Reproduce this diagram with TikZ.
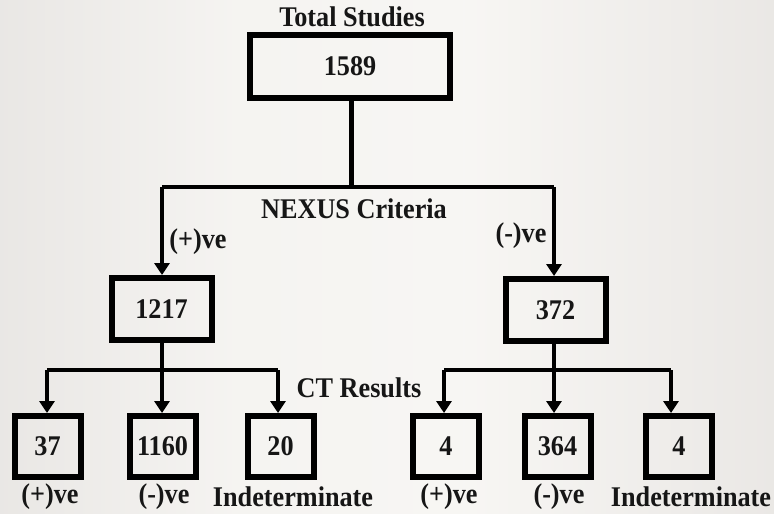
\documentclass[tikz,border=0pt]{standalone}
\usepackage{fontspec}
\setmainfont[FakeStretch=0.92]{Liberation Serif}
\usetikzlibrary{arrows.meta}
\definecolor{ink}{RGB}{22,22,22}
\pgfdeclarehorizontalshading{bgshade}{100bp}{%
  rgb(0bp)=(0.80,0.78,0.77);
  rgb(20bp)=(0.90,0.89,0.88);
  rgb(40bp)=(0.96,0.955,0.945);
  rgb(55bp)=(0.97,0.965,0.955);
  rgb(78bp)=(0.91,0.90,0.89);
  rgb(100bp)=(0.76,0.74,0.73)}
\tikzset{
  every node/.style={font=\fontsize{28.5}{32}\selectfont\bfseries, text=ink},
  numbox/.style={draw=black, line width=6pt, inner sep=0pt, minimum width=#1},
  numbox/.default=66pt,
  conn/.style={draw=black, line width=4.5pt},
  arr/.style={conn, -{Triangle[width=15pt,length=12pt]}},
  lbl/.style={inner sep=0pt},
}
\begin{document}
\begin{tikzpicture}[x=1pt,y=-1pt]
\shade[shading=bgshade] (0,0) rectangle (774,514);
\useasboundingbox (0,0) rectangle (774,514);

% top
\node[lbl] (title) at (352,17) {Total Studies};
\node[numbox=200pt, minimum height=63pt] (top) at (350,66.5) {1589};
\node[lbl] (nexus) at (354,209) {NEXUS Criteria};
\coordinate (hL) at (162,187);
\coordinate (hR) at (554,187);
\coordinate (hM) at (351.5,187);

% second level
\node[numbox=100pt, minimum height=62pt] (a) at (161.5,309) {1217};
\node[numbox=100pt, minimum height=62pt] (b) at (555.5,310) {372};
\node[lbl] (apos) at (198,242) {(+)ve};
\node[lbl] (bneg) at (521,236) {(-)ve};

\draw[conn] (top.south -| hM) -- (hM);
\draw[conn] (hL) -- (hR);
\draw[arr] (hL) -- (hL |- a.north);
\draw[arr] (hR) -- (hR |- b.north);

% third level
\node[numbox, minimum height=61pt] (c1) at (47.5,446.5) {37};
\node[numbox, minimum height=61pt] (c2) at (162.5,446.5) {1160};
\node[numbox, minimum height=61pt] (c3) at (280.5,446.5) {20};
\node[numbox, minimum height=61pt] (d1) at (446,446.5) {4};
\node[numbox, minimum height=61pt] (d2) at (557.5,446.5) {364};
\node[numbox, minimum height=61pt] (d3) at (679,446.5) {4};

\node[lbl] (ct) at (359,388) {CT Results};

\coordinate (la) at (47,370);
\coordinate (lm) at (162,370);
\coordinate (lb) at (278,370);
\coordinate (ra) at (444,370);
\coordinate (rm) at (554,370);
\coordinate (rb) at (671,370);

\draw[conn] (a.south -| lm) -- (lm);
\draw[conn] (la) -- (lb);
\draw[arr] (la) -- (la |- c1.north);
\draw[arr] (lm) -- (lm |- c2.north);
\draw[arr] (lb) -- (lb |- c3.north);

\draw[conn] (b.south -| rm) -- (rm);
\draw[conn] (ra) -- (rb);
\draw[arr] (ra) -- (ra |- d1.north);
\draw[arr] (rm) -- (rm |- d2.north);
\draw[arr] (rb) -- (rb |- d3.north);

% bottom labels
\node[lbl] (l1) at (50,497) {(+)ve};
\node[lbl] (l2) at (164,497) {(-)ve};
\node[lbl] (l3) at (293,497) {Indeterminate};
\node[lbl] (l4) at (449,497) {(+)ve};
\node[lbl] (l5) at (559,497) {(-)ve};
\node[lbl] (l6) at (691,497) {Indeterminate};
\end{tikzpicture}
\end{document}
